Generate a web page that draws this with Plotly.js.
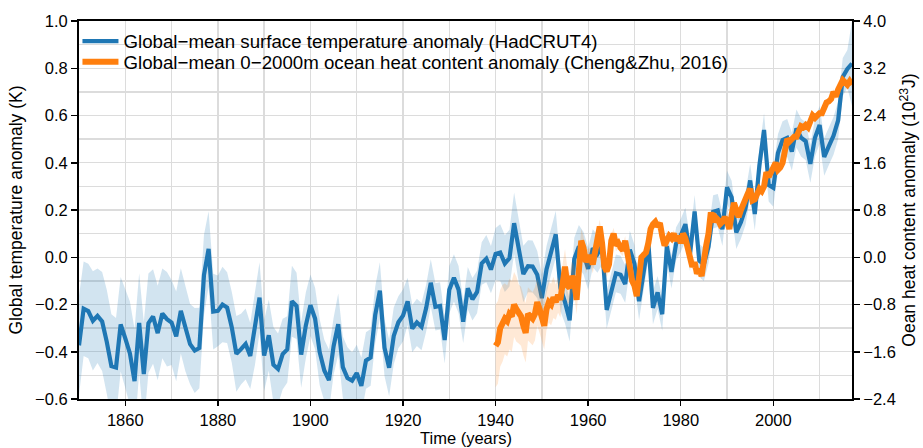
<!DOCTYPE html>
<html>
<head>
<meta charset="utf-8">
<script src="https://cdn.plot.ly/plotly-3.0.1.min.js"></script>
<style>html,body{margin:0;padding:0;background:#fff;}#chart{width:923px;height:448px;}</style>
</head>
<body>
<div id="chart"></div>
<script>
// HadCRUT4 annual global-mean surface temperature anomaly (K), 1850-2017
const hadStart = 1850;
const hadT = [
 -0.373,-0.218,-0.228,-0.269,-0.248,-0.272,-0.358,-0.461,-0.467,-0.284,
 -0.343,-0.407,-0.524,-0.278,-0.494,-0.279,-0.251,-0.321,-0.238,-0.262,
 -0.276,-0.335,-0.227,-0.304,-0.368,-0.395,-0.384,-0.075,0.035,-0.230,
 -0.227,-0.200,-0.213,-0.296,-0.409,-0.389,-0.367,-0.418,-0.307,-0.171,
 -0.416,-0.330,-0.455,-0.473,-0.410,-0.390,-0.186,-0.206,-0.412,-0.289,
 -0.203,-0.259,-0.402,-0.479,-0.520,-0.377,-0.283,-0.465,-0.511,-0.522,
 -0.490,-0.544,-0.437,-0.424,-0.244,-0.141,-0.383,-0.468,-0.333,-0.275,
 -0.247,-0.187,-0.302,-0.276,-0.294,-0.215,-0.108,-0.210,-0.206,-0.350,
 -0.137,-0.087,-0.137,-0.273,-0.131,-0.178,-0.147,-0.026,-0.006,-0.052,
 0.014,0.020,-0.027,-0.004,0.144,0.025,-0.071,-0.038,-0.039,-0.074,
 -0.173,-0.052,0.028,0.097,-0.129,-0.190,-0.267,-0.007,0.046,0.017,
 -0.049,0.038,0.014,0.048,-0.223,-0.140,-0.068,-0.074,-0.113,0.032,
 -0.027,-0.186,-0.065,0.062,-0.214,-0.149,-0.241,0.047,-0.062,0.057,
 0.092,0.140,0.011,0.194,-0.014,-0.030,0.045,0.192,0.198,0.118,
 0.296,0.254,0.105,0.148,0.208,0.325,0.183,0.390,0.539,0.306,
 0.294,0.441,0.496,0.505,0.447,0.545,0.506,0.491,0.395,0.506,
 0.560,0.425,0.470,0.514,0.579,0.763,0.797,0.820
];
// half-width of the HadCRUT4 uncertainty band (K)
const hadUnc = [
 0.21,0.20,0.20,0.21,0.20,0.21,0.22,0.22,0.21,0.20,
 0.21,0.22,0.22,0.21,0.22,0.21,0.20,0.20,0.19,0.20,
 0.18,0.19,0.18,0.18,0.17,0.18,0.17,0.17,0.16,0.16,
 0.15,0.16,0.15,0.15,0.16,0.15,0.15,0.14,0.15,0.15,
 0.15,0.15,0.16,0.15,0.15,0.14,0.15,0.14,0.14,0.14,
 0.13,0.13,0.14,0.13,0.13,0.12,0.13,0.13,0.13,0.12,
 0.12,0.12,0.12,0.12,0.12,0.12,0.12,0.12,0.12,0.11,
 0.11,0.10,0.10,0.10,0.10,0.10,0.10,0.10,0.10,0.10,
 0.10,0.10,0.10,0.09,0.09,0.09,0.09,0.09,0.10,0.10,
 0.11,0.12,0.12,0.12,0.13,0.13,0.12,0.11,0.11,0.10,
 0.10,0.10,0.10,0.10,0.10,0.09,0.09,0.09,0.09,0.09,
 0.09,0.08,0.08,0.08,0.08,0.08,0.08,0.08,0.08,0.08,
 0.08,0.08,0.08,0.07,0.07,0.07,0.07,0.07,0.07,0.07,
 0.07,0.07,0.07,0.07,0.07,0.07,0.07,0.07,0.07,0.07,
 0.07,0.07,0.07,0.07,0.07,0.07,0.07,0.07,0.07,0.07,
 0.08,0.08,0.08,0.08,0.08,0.08,0.08,0.08,0.08,0.08,
 0.08,0.08,0.08,0.08,0.08,0.08,0.08,0.18
];

// Cheng & Zhu (2016) 0-2000m ocean heat content anomaly (10^23 J), half-yearly from 1940
const ohcStart = 1940;
const ohcStep = 0.5;
const ohcVal = [
 -1.50,-1.44, -1.20,-1.12, -1.04,-1.08, -0.96,-1.00, -0.80,-0.88,
 -0.96,-1.00, -1.16,-1.28, -0.96,-1.00, -1.04,-0.96, -0.76,-0.88,
 -1.00,-1.16, -0.88,-0.76, -0.80,-0.68, -0.76,-0.64, -0.72,-0.40,
 -0.16,-0.48, -0.52,-0.32, -0.40,-0.72, -0.20,0.28, 0.16,-0.08,
 0.00,0.00, -0.12,0.08, 0.32,0.52, 0.24,-0.16, -0.24,-0.12,
 0.28,0.40, 0.20,0.24, 0.16,0.12, 0.28,-0.04, -0.16,-0.40,
 -0.48,-0.66, -0.24,0.00, 0.04,0.08, 0.24,0.48, 0.56,0.60,
 0.52,0.58, 0.36,0.20, 0.28,0.36, 0.32,0.40, 0.28,0.36,
 0.24,0.40, 0.32,0.20, 0.00,-0.16, -0.08,-0.28, -0.20,-0.32,
 0.00,0.20, 0.40,0.76, 0.60,0.68, 0.64,0.56, 0.60,0.68,
 0.60,0.48, 0.72,0.92, 0.80,0.68, 0.80,0.92, 1.04,1.08,
 1.16,0.96, 0.98,1.08, 1.16,1.12, 1.20,1.44, 1.36,1.44,
 1.56,1.60, 1.48,1.52, 1.60,1.76, 2.00,1.96, 2.00,2.04,
 2.04,2.16, 2.22,2.20, 2.24,2.20, 2.32,2.40, 2.36,2.40,
 2.44,2.44, 2.52,2.62, 2.64,2.68, 2.80,2.72, 2.84,2.90,
 3.00,2.96, 2.92,2.98, 2.92
];
// half-width of the OHC uncertainty band (10^23 J), one value per year from 1940
const ohcUnc = [
 0.70,0.65,0.60,0.60,0.55,0.50,0.50,0.45,0.45,0.40,
 0.40,0.35,0.35,0.30,0.30,0.30,0.25,0.25,0.20,0.20,
 0.15,0.15,0.12,0.12,0.10,0.10,0.10,0.10,0.08,0.08,
 0.08,0.08,0.07,0.07,0.07,0.06,0.06,0.06,0.06,0.06,
 0.05,0.05,0.05,0.05,0.05,0.05,0.05,0.05,0.05,0.05,
 0.05,0.05,0.05,0.05,0.05,0.05,0.05,0.05,0.05,0.05,
 0.05,0.05,0.05,0.05,0.05,0.05,0.05,0.05,0.05,0.05,
 0.05,0.05,0.05,0.05,0.05,0.05,0.05,0.05
];

const legendNames = [
 "Global\u2212mean surface temperature anomaly (HadCRUT4)",
 "Global\u2212mean 0\u22122000m ocean heat content anomaly (Cheng&Zhu, 2016)"
];
const xTitle = "Time (years)";

const blue = "#1f77b4", orange = "#ff7f0e";

const hadYears = hadT.map((_, i) => hadStart + i);
const hadLo = hadT.map((v, i) => v - hadUnc[i]);
const hadHi = hadT.map((v, i) => v + hadUnc[i]);
const ohcTime = ohcVal.map((_, i) => ohcStart + i * ohcStep);
const ohcLo = ohcVal.map((v, i) => v - ohcUnc[Math.floor(i * ohcStep)]);
const ohcHi = ohcVal.map((v, i) => v + ohcUnc[Math.floor(i * ohcStep)]);

const rev = a => a.slice().reverse();

const traces = [
 {x: hadYears.concat(rev(hadYears)), y: hadLo.concat(rev(hadHi)), type: "scatter", mode: "lines",
  fill: "toself", fillcolor: "rgba(31,119,180,0.2)", line: {width: 0}, showlegend: false, hoverinfo: "skip"},
 {x: hadYears, y: hadT, type: "scatter", mode: "lines", name: legendNames[0], legend: "legend",
  line: {color: blue, width: 4.2}},
 {x: ohcTime.concat(rev(ohcTime)), y: ohcLo.concat(rev(ohcHi)), type: "scatter", mode: "lines", yaxis: "y2",
  fill: "toself", fillcolor: "rgba(255,127,14,0.17)", line: {width: 0}, showlegend: false, hoverinfo: "skip"},
 {x: ohcTime, y: ohcVal, type: "scatter", mode: "lines", name: legendNames[1], yaxis: "y2", legend: "legend2",
  line: {color: orange, width: 6}}
];

const gridC = "#dcdcdc";
const fam = "Liberation Sans, Arial, sans-serif";
const tickFont = {family: fam, size: 16.5, color: "#000"};
const titleFont = {family: fam, size: 17.5, color: "#000"};
const xTitleFont = {family: fam, size: 16.5, color: "#000"};
const legFont = {family: fam, size: 18.7, color: "#000"};

const legBase = {xanchor: "left", yanchor: "middle", bgcolor: "rgba(0,0,0,0)", font: legFont,
  itemwidth: 36, borderwidth: 0};

const layout = {
 width: 923, height: 448,
 margin: {l: 79, r: 71, t: 21, b: 49},
 paper_bgcolor: "#fff", plot_bgcolor: "#fff",
 font: tickFont,
 showlegend: true,
 legend: Object.assign({x: -0.002, y: 0.946}, legBase),
 legend2: Object.assign({x: -0.002, y: 0.891}, legBase),
 xaxis: {range: [1850, 2017], tick0: 1860, dtick: 20, ticks: "outside", ticklen: 5, tickwidth: 1.5,
  tickcolor: "#000", tickfont: tickFont, showline: true, linecolor: "#000", linewidth: 2, mirror: true,
  showgrid: true, gridcolor: gridC, gridwidth: 1.3, zeroline: false,
  minor: {tick0: 1850, dtick: 10, showgrid: true, gridcolor: gridC, gridwidth: 1.3, ticks: ""}},
 yaxis: {range: [-0.6, 1.0], tick0: 0, dtick: 0.2, tickformat: ".1f", ticks: "outside", ticklen: 6,
  tickwidth: 1.5, tickcolor: "#000", tickfont: tickFont, showline: true, linecolor: "#000", linewidth: 2,
  showgrid: true, gridcolor: gridC, gridwidth: 1.3, zeroline: false,
  minor: {dtick: 0.1, showgrid: true, gridcolor: gridC, gridwidth: 1.3, ticks: ""},
  title: {text: "Global temperature anomaly (K)", font: titleFont, standoff: 8}},
 yaxis2: {overlaying: "y", side: "right", range: [-2.4, 4.0], tick0: 0, dtick: 0.8, tickformat: ".1f",
  ticks: "outside", ticklen: 6, tickwidth: 1.5, tickcolor: "#000", tickfont: tickFont, showline: true,
  linecolor: "#000", linewidth: 2, showgrid: false, zeroline: false,
  title: {text: "Oean heat content anomaly (10<sup>23</sup>J)", font: titleFont, standoff: 8}},
 annotations: [
  {text: xTitle, xref: "paper", yref: "paper", x: 0.5, y: -0.0775, xanchor: "center", yanchor: "top",
   showarrow: false, font: xTitleFont, borderpad: 0}
 ]
};

Plotly.newPlot("chart", traces, layout, {displayModeBar: false, staticPlot: true});
</script>
</body>
</html>
